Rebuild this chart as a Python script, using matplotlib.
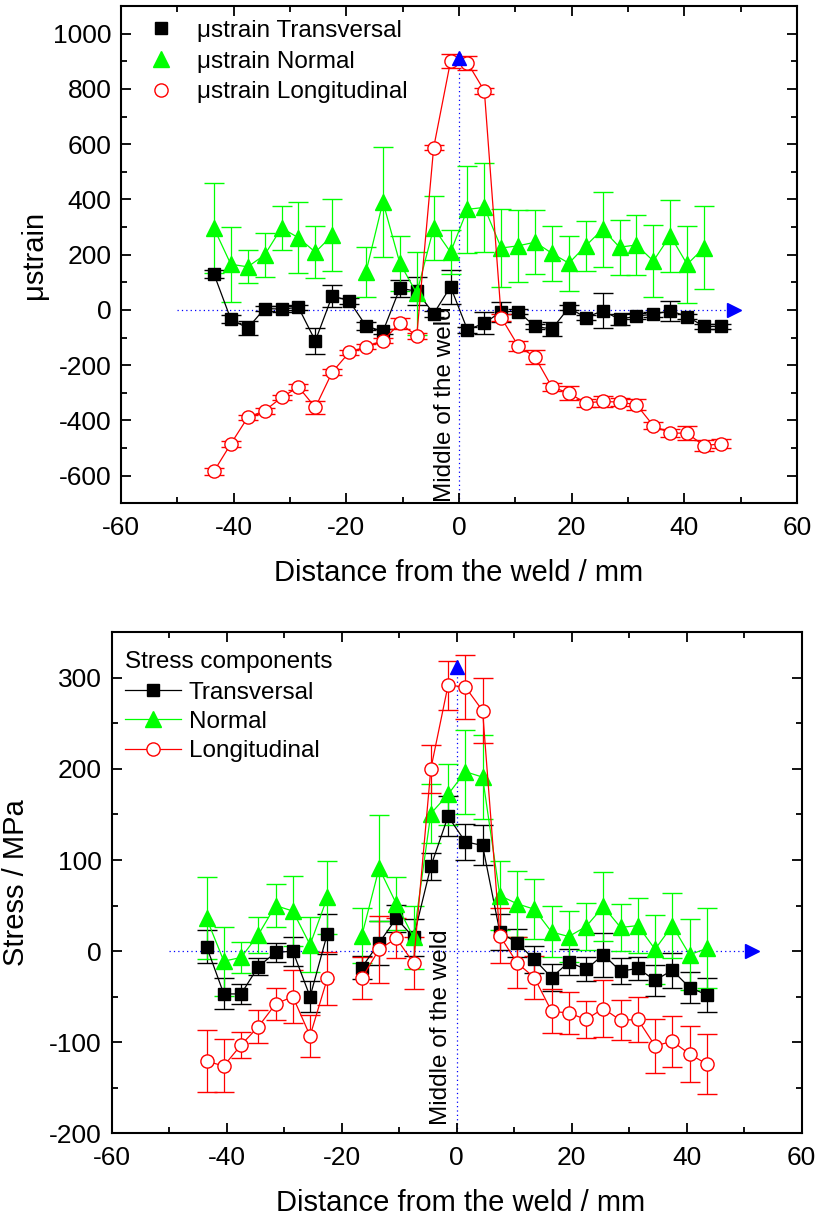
import numpy as np
import matplotlib
matplotlib.use('Agg')
import matplotlib.pyplot as plt
from matplotlib.lines import Line2D
from matplotlib.ticker import MultipleLocator

plt.rcParams['font.family'] = ['Liberation Sans', 'DejaVu Sans']
plt.rcParams['axes.unicode_minus'] = False

nan = np.nan

# measuring points, distance from the weld / mm
x_top = [-43.5, -40.5, -37.5, -34.5, -31.5, -28.5, -25.5, -22.5, -19.5, -16.5, -13.5,
         -10.5, -7.5, -4.5, -1.5, 1.5, 4.5, 7.5, 10.5, 13.5, 16.5, 19.5, 22.5, 25.5,
         28.5, 31.5, 34.5, 37.5, 40.5, 43.5, 46.5]
x_bot = [-43.5, -40.5, -37.5, -34.5, -31.5, -28.5, -25.5, -22.5, -19.5, -16.5, -13.5,
         -10.5, -7.5, -4.5, -1.5, 1.5, 4.5, 7.5, 10.5, 13.5, 16.5, 19.5, 22.5, 25.5,
         28.5, 31.5, 34.5, 37.5, 40.5, 43.5]

# top panel: microstrain
trans_top = [130, -34, -66, 5, 3, 9, -112, 51, 33, -58, -78, 78, 68, -14, 84, -72,
             -48, -6, -6, -60, -69, 8, -28, -3, -34, -22, -16, -3, -24, -60, -60]
trans_top_err = [15, 15, 25, 10, 10, 10, 48, 40, 10, 15, 10, 30, 50, 10, 62, 10,
                 39, 36, 10, 10, 25, 10, 10, 63, 20, 10, 10, 36, 10, 10, 10]
normal_top = [296, 165, 156, 199, 297, 261, 209, 270, nan, 138, 391, 169, 60, 297, 209,
              364, 371, 224, 232, 245, 205, 169, 232, 292, 227, 235, 177, 269, 165, 225, nan]
normal_top_err = [163, 135, 60, 80, 80, 128, 93, 130, nan, 90, 200, 100, 150, 115, 80,
                  157, 160, 140, 130, 115, 100, 100, 90, 135, 100, 110, 130, 130, 140, 150, nan]
long_top = [-584, -485, -389, -365, -317, -279, -353, -225, -154, -133, -111, -48, -94,
            587, 900, 895, 793, -28, -130, -171, -279, -301, -337, -331, -334, -343,
            -419, -446, -446, -492, -484]
long_top_err = [12, 10, 10, 10, 10, 12, 22, 10, 10, 10, 10, 20, 10, 10, 25, 25,
                10, 12, 18, 25, 15, 25, 15, 20, 15, 20, 12, 15, 25, 20, 15]

# bottom panel: stress / MPa
trans_bot = [5, -47, -47, -17, -1.5, 0, -50, 19, nan, -18, 9, 36, 15, 93, 148, 120,
             116, 21, 9, -9, -29, -12, -20, -4, -22, -19, -32, -21, -40, -48]
trans_bot_err = [18, 17, 11, 9, 10, 16, 17, 22, nan, 13, 24, 15, 20, 15, 22, 20,
                 22, 20, 15, 15, 15, 14, 13, 24, 14, 13, 17, 19, 17, 19]
normal_bot = [36, -11, -7, 18, 50, 44, 7, 59, nan, 17, 91, 52, 15, 151, 172, 197,
              191, 61, 52, 46, 21, 16, 27, 49, 26, 28, 2, 28, -4, 3]
normal_bot_err = [45, 38, 17, 20, 24, 38, 30, 40, nan, 30, 58, 29, 35, 32, 33, 46,
                  46, 38, 36, 33, 28, 28, 26, 38, 26, 30, 38, 36, 39, 44]
long_bot = [-121, -126, -103, -83, -58, -50, -93, -30, nan, -30, 2, 14, -13, 200, 292,
            290, 264, 17, -13, -29, -66, -68, -75, -63, -76, -75, -104, -99, -113, -124]
long_bot_err = [34, 29, 14, 18, 18, 29, 23, 29, nan, 23, 37, 22, 29, 26, 27, 35,
                36, 30, 28, 24, 24, 23, 20, 31, 22, 25, 30, 28, 31, 33]

# markers for the weld centre and the zero line
top_arrow_up = 910
top_arrow_right = 48.8
bot_arrow_up = 312
bot_arrow_right = 51.4
zero_line_start = -50

BLACK = '#000000'
GREEN = '#00ff00'
RED = '#ff0000'
BLUE = '#0000ff'

styles = [
    dict(color=BLACK, marker='s', ms=8, mfc=BLACK, mec=BLACK),
    dict(color=GREEN, marker='^', ms=11, mfc=GREEN, mec=GREEN),
    dict(color=RED, marker='o', ms=9.5, mfc='white', mec=RED),
]

fig = plt.figure(figsize=(8.18, 12.2), dpi=100)
ax1 = fig.add_axes([121 / 818, 1 - 503.3 / 1220, 676 / 818, 497.3 / 1220])
ax2 = fig.add_axes([111.7 / 818, 1 - 1133.3 / 1220, 690 / 818, 501 / 1220])


def draw_series(ax, x, data):
    for (y, e), st in zip(data, styles):
        ax.errorbar(x, y, yerr=e, color=st['color'], lw=0.9, elinewidth=0.9,
                    capsize=7.5, capthick=0.9, marker=st['marker'], ms=st['ms'],
                    mfc=st['mfc'], mec=st['mec'], mew=1.0)


def style_axes(ax):
    for sp in ax.spines.values():
        sp.set_linewidth(1.5)
    ax.tick_params(which='both', direction='in', top=True, right=True, width=1.3,
                   labelsize=19)
    ax.tick_params(which='major', length=7)
    ax.tick_params(which='minor', length=4)
    ax.tick_params(axis='x', pad=9)
    ax.tick_params(axis='y', pad=7)
    ax.xaxis.set_major_locator(MultipleLocator(20))
    ax.xaxis.set_minor_locator(MultipleLocator(10))
    ax.set_xlim(-60, 60)


# ---- top panel
draw_series(ax1, x_top, [(trans_top, trans_top_err), (normal_top, normal_top_err),
                         (long_top, long_top_err)])
ax1.set_ylim(-700, 1100)
ax1.plot([0, 0], [-700, top_arrow_up], ls=(0, (1, 2.5)), color=BLUE, lw=0.9, zorder=1)
ax1.plot([zero_line_start, top_arrow_right], [0, 0], ls=(0, (1, 2.5)), color=BLUE,
         lw=0.9, zorder=1)
ax1.plot([0], [top_arrow_up], marker='^', ms=10, color=BLUE, zorder=5)
ax1.plot([top_arrow_right], [0], marker='>', ms=10, color=BLUE, zorder=5)
ax1.text(-0.6, -694, 'Middle of the weld', rotation=90, ha='right', va='bottom',
         fontsize=17.5)
style_axes(ax1)
ax1.yaxis.set_major_locator(MultipleLocator(200))
ax1.yaxis.set_minor_locator(MultipleLocator(100))
ax1.set_xlabel('Distance from the weld / mm', fontsize=21)
ax1.set_ylabel('\u03bcstrain', fontsize=21)
ax1.xaxis.set_label_coords(0.5, -0.112)
ax1.yaxis.set_label_coords(-0.108, 0.5)

h_top = [Line2D([], [], ls='none', marker=st['marker'], ms=st['ms'], mfc=st['mfc'],
                mec=st['mec'], mew=1.0) for st in styles]
ax1.legend(h_top, ['\u03bcstrain Transversal', '\u03bcstrain Normal',
                   '\u03bcstrain Longitudinal'],
           loc='upper left', bbox_to_anchor=(0.0300, 0.972), frameon=False,
           fontsize=17.5, handlelength=1.6, handletextpad=0.7, labelspacing=0.36,
           borderpad=0, borderaxespad=0)

# ---- bottom panel
draw_series(ax2, x_bot, [(trans_bot, trans_bot_err), (normal_bot, normal_bot_err),
                         (long_bot, long_bot_err)])
ax2.set_ylim(-200, 350)
ax2.plot([0, 0], [-200, bot_arrow_up], ls=(0, (1, 2.5)), color=BLUE, lw=0.9, zorder=1)
ax2.plot([zero_line_start, bot_arrow_right], [0, 0], ls=(0, (1, 2.5)), color=BLUE,
         lw=0.9, zorder=1)
ax2.plot([0], [bot_arrow_up], marker='^', ms=10, color=BLUE, zorder=5)
ax2.plot([bot_arrow_right], [0], marker='>', ms=10, color=BLUE, zorder=5)
ax2.text(-0.9, -191, 'Middle of the weld', rotation=90, ha='right', va='bottom',
         fontsize=17.5)
style_axes(ax2)
ax2.yaxis.set_major_locator(MultipleLocator(100))
ax2.yaxis.set_minor_locator(MultipleLocator(50))
ax2.set_xlabel('Distance from the weld / mm', fontsize=21)
ax2.set_ylabel('Stress / MPa', fontsize=21)
ax2.xaxis.set_label_coords(0.505, -0.112)
ax2.yaxis.set_label_coords(-0.118, 0.5)

h_bot = [Line2D([], [], color=st['color'], lw=0.9, marker=st['marker'], ms=st['ms'],
                mfc=st['mfc'], mec=st['mec'], mew=1.0) for st in styles]
leg = ax2.legend(h_bot, ['Transversal', 'Normal', 'Longitudinal'],
                 title='Stress components', title_fontsize=17.5, alignment='left',
                 loc='upper left', bbox_to_anchor=(0.0188, 0.962), frameon=False,
                 fontsize=17.5, handlelength=2.3, handletextpad=0.34, labelspacing=0.3,
                 borderpad=0, borderaxespad=0)
leg._legend_box.sep = 6

fig.savefig('out.png', dpi=100)
